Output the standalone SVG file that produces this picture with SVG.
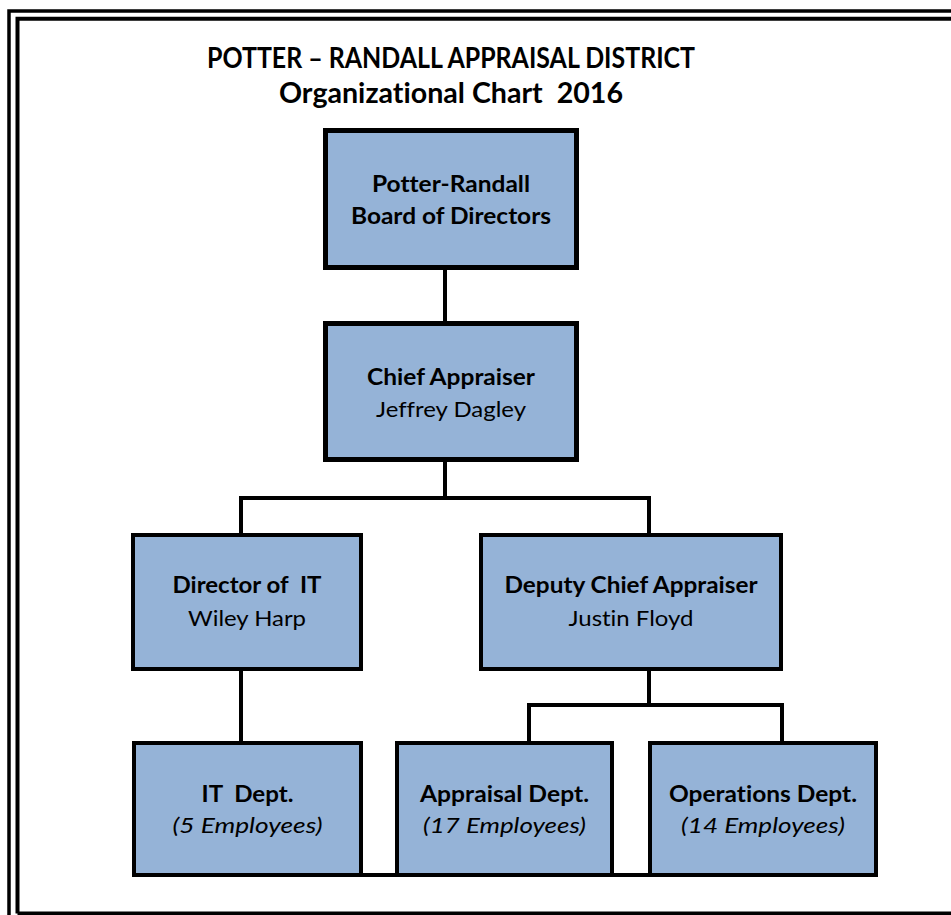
<svg xmlns="http://www.w3.org/2000/svg" width="951" height="915" viewBox="0 0 951 915">
<style>
.frame{fill:none;stroke:#000}
.box{fill:#95B3D7;stroke:#000;stroke-width:4}
.box.thick{stroke-width:5}
.conn{fill:none;stroke:#000;stroke-width:4;stroke-linecap:square}
text{font-family:Lato,"Liberation Sans",sans-serif;fill:#000;text-anchor:middle;white-space:pre;font-variant-ligatures:none;font-feature-settings:"liga" 0,"dlig" 0}
.title{font-size:29px;font-weight:bold}
.b{font-size:22px;font-weight:bold}
.n{font-size:22px}
.i{font-size:22px;font-style:italic}
</style>
<rect width="951" height="915" fill="#fff"/>
<g id="frame">
<path class="frame" stroke-width="3.5" d="M9,930 V11 H970"/>
<path class="frame" stroke-width="4" d="M17.5,913.5 V18.7 H970 M17.5,913.5 H970"/>
</g>
<g id="title">
<text class="title" x="451" y="68" textLength="488" lengthAdjust="spacingAndGlyphs" xml:space="preserve">POTTER – RANDALL APPRAISAL DISTRICT</text>
<text class="title" x="451" y="103" textLength="344" lengthAdjust="spacingAndGlyphs" xml:space="preserve">Organizational Chart  2016</text>
</g>
<g id="connectors">
<path class="conn" d="M445,270 V321"/>
<path class="conn" d="M445,462 V498 M241,533 V498 H649 V533"/>
<path class="conn" d="M241,671 V741"/>
<path class="conn" d="M649,669 V705 M529,741 V705 H782 V741"/>
<path class="conn" d="M363,875 H648"/>
</g>
<g id="board">
<rect class="box thick" x="325.5" y="130.5" width="251" height="137"/>
<text class="b" x="451" y="192" textLength="158" lengthAdjust="spacingAndGlyphs">Potter-Randall</text>
<text class="b" x="451" y="224" textLength="200" lengthAdjust="spacingAndGlyphs">Board of Directors</text>
</g>
<g id="chief">
<rect class="box thick" x="325.5" y="323.5" width="251" height="136"/>
<text class="b" x="451" y="385" textLength="168" lengthAdjust="spacingAndGlyphs">Chief Appraiser</text>
<text class="n" x="451" y="417" textLength="150" lengthAdjust="spacingAndGlyphs">Jeffrey Dagley</text>
</g>
<g id="director-it">
<rect class="box" x="133" y="535" width="228" height="134"/>
<text class="b" x="247" y="593" textLength="149" lengthAdjust="spacingAndGlyphs" xml:space="preserve">Director of  IT</text>
<text class="n" x="247" y="626" textLength="118" lengthAdjust="spacingAndGlyphs">Wiley Harp</text>
</g>
<g id="deputy">
<rect class="box" x="481" y="535" width="300" height="134"/>
<text class="b" x="631" y="593" textLength="253" lengthAdjust="spacingAndGlyphs">Deputy Chief Appraiser</text>
<text class="n" x="631" y="626" textLength="125" lengthAdjust="spacingAndGlyphs">Justin Floyd</text>
</g>
<g id="it-dept">
<rect class="box" x="134" y="743" width="227" height="132"/>
<text class="b" x="247.5" y="802" textLength="92" lengthAdjust="spacingAndGlyphs" xml:space="preserve">IT  Dept.</text>
<text class="i" x="247.5" y="833" textLength="150" lengthAdjust="spacingAndGlyphs">(5 Employees)</text>
</g>
<g id="appraisal-dept">
<rect class="box" x="397" y="743" width="215" height="132"/>
<text class="b" x="504.5" y="802" textLength="169" lengthAdjust="spacingAndGlyphs">Appraisal Dept.</text>
<text class="i" x="504.5" y="833" textLength="163" lengthAdjust="spacingAndGlyphs">(17 Employees)</text>
</g>
<g id="operations-dept">
<rect class="box" x="650" y="743" width="226" height="132"/>
<text class="b" x="763" y="802" textLength="188" lengthAdjust="spacingAndGlyphs">Operations Dept.</text>
<text class="i" x="763" y="833" textLength="164" lengthAdjust="spacingAndGlyphs">(14 Employees)</text>
</g>
</svg>
